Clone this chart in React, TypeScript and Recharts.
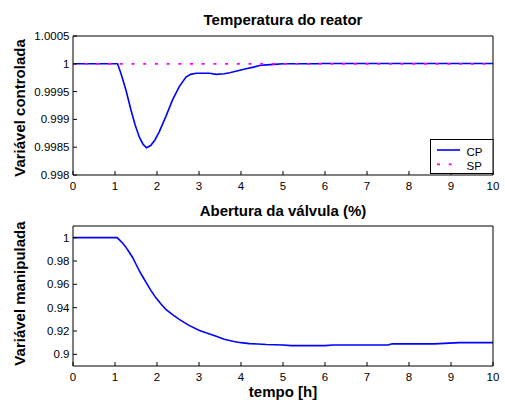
import React from 'react';
import { LineChart, Line, XAxis, YAxis, Legend } from 'recharts';

const timeTop = [0, 1, 1.06, 1.14, 1.26, 1.38, 1.48, 1.58, 1.67, 1.75, 1.85, 1.95, 2.05, 2.21, 2.37, 2.53, 2.69, 2.8, 2.93, 3.1, 3.25, 3.41, 3.6, 3.73, 3.9, 4.12, 4.3, 4.44, 4.6, 4.8, 5, 5.5, 5.8, 5.9, 6.5, 7, 8, 9, 10];
const cpValues = [1, 1, 1, 0.99983, 0.99953, 0.99917, 0.9989, 0.99868, 0.99855, 0.99849, 0.99853, 0.99863, 0.99877, 0.99905, 0.99935, 0.99959, 0.99976, 0.99981, 0.99983, 0.99983, 0.99983, 0.99981, 0.99982, 0.99984, 0.99987, 0.99991, 0.99994, 0.99997, 0.99998, 0.99999, 1, 1, 1, 1.000005, 1.000005, 1.000005, 1.000005, 1.000005, 1.000005];
const spTime = [0, 10];
const spValues = [1, 1];

const timeBottom = [0, 1, 1.05, 1.1, 1.18, 1.26, 1.34, 1.42, 1.5, 1.58, 1.66, 1.74, 1.85, 1.97, 2.1, 2.21, 2.37, 2.53, 2.75, 3.01, 3.2, 3.41, 3.6, 3.8, 4.0, 4.2, 4.4, 4.6, 5.0, 5.2, 5.6, 6.0, 6.2, 7.0, 7.5, 7.6, 8.6, 9.2, 10];
const mvValues = [1, 1, 1, 0.9983, 0.9955, 0.9917, 0.9875, 0.983, 0.9772, 0.9716, 0.9665, 0.9616, 0.955, 0.9486, 0.943, 0.9386, 0.934, 0.93, 0.925, 0.9205, 0.918, 0.9155, 0.913, 0.9112, 0.91, 0.9092, 0.9088, 0.9084, 0.908, 0.9075, 0.9075, 0.9075, 0.908, 0.908, 0.908, 0.909, 0.909, 0.91, 0.91];

const xTicks = [0, 1, 2, 3, 4, 5, 6, 7, 8, 9, 10];
const yTicksTop = [0.998, 0.9985, 0.999, 0.9995, 1, 1.0005];
const yTicksBottom = [0.9, 0.92, 0.94, 0.96, 0.98, 1];

const titleTop = 'Temperatura do reator';
const titleBottom = 'Abertura da válvula (%)';
const yLabelTop = 'Variável controlada';
const yLabelBottom = 'Variável manipulada';
const xLabel = 'tempo [h]';

const topData = timeTop.map((t, i) => ({ t, cp: cpValues[i] }));
const spData = spTime.map((t, i) => ({ t, sp: spValues[i] }));
const bottomData = timeBottom.map((t, i) => ({ t, mv: mvValues[i] }));

const FONT = '"Liberation Sans", Arial, sans-serif';
const tickStyle = { fill: '#000', fontSize: 11.5, fontFamily: FONT };

const yLabelContent = (text: string, cy: number) => () => (
  <text
    x={25}
    y={cy}
    transform={`rotate(-90 25 ${cy})`}
    textAnchor="middle"
    fontFamily={FONT}
    fontSize={15}
    fontWeight="bold"
    fill="#000"
  >
    {text}
  </text>
);

const LegendBox = (props: any) => {
  const payload = props.payload || [];
  return (
    <svg width={64} height={36} style={{ display: 'block' }}>
      <rect x={0.5} y={0.5} width={62.5} height={34} fill="#fff" stroke="#000" strokeWidth={1} />
      {payload.map((p: any, i: number) => {
        const y = 11 + i * 14.3;
        const dashed = i === 1;
        return (
          <g key={i}>
            <line
              x1={7}
              x2={30}
              y1={y}
              y2={y}
              stroke={p.color}
              strokeWidth={dashed ? 1.8 : 1.6}
              strokeDasharray={dashed ? '3 8.7' : undefined}
            />
            <text x={36.5} y={y + 2.5} dominantBaseline="middle" fontFamily={FONT} fontSize={11.5} fill="#000">
              {p.value}
            </text>
          </g>
        );
      })}
    </svg>
  );
};

export default function App() {
  return (
    <div style={{ position: 'absolute', left: 0, top: 0, width: 505, height: 404, background: '#fff' }}>
      <LineChart width={505} height={200} data={topData} margin={{ top: 35, right: 11, left: 0, bottom: 5 }} style={{ fontFamily: FONT }}>
        <XAxis
          xAxisId="b"
          dataKey="t"
          type="number"
          domain={[0, 10]}
          ticks={xTicks}
          allowDataOverflow
          height={20}
          tickSize={-4}
          tickMargin={11}
          tick={tickStyle}
          stroke="#000"
        />
        <XAxis
          xAxisId="t"
          dataKey="t"
          type="number"
          orientation="top"
          domain={[0, 10]}
          ticks={xTicks}
          height={1}
          tickSize={-4}
          tick={false}
          stroke="#000"
          label={{ value: titleTop, position: 'top', offset: 10, fill: '#000', fontSize: 15, fontWeight: 'bold', fontFamily: FONT }}
        />
        <YAxis
          yAxisId="l"
          type="number"
          domain={[0.998, 1.0005]}
          ticks={yTicksTop}
          allowDataOverflow
          width={73}
          tickSize={-4}
          tickMargin={7.5}
          tick={tickStyle}
          stroke="#000"
          label={{ content: yLabelContent(yLabelTop, 108) }}
        />
        <YAxis
          yAxisId="r"
          type="number"
          orientation="right"
          domain={[0.998, 1.0005]}
          ticks={yTicksTop}
          width={1}
          tickSize={-4}
          tick={false}
          stroke="#000"
        />
        <Line
          xAxisId="b"
          yAxisId="l"
          dataKey="cp"
          name="CP"
          stroke="#0000ff"
          strokeWidth={1.6}
          dot={false}
          isAnimationActive={false}
          type="linear"
        />
        <Line
          xAxisId="b"
          yAxisId="l"
          data={spData}
          dataKey="sp"
          name="SP"
          stroke="#ff00ff"
          strokeWidth={1.8}
          strokeDasharray="3 8.7"
          dot={false}
          isAnimationActive={false}
          type="linear"
        />
        <Legend
          layout="vertical"
          align="center"
          verticalAlign="middle"
          content={LegendBox}
          wrapperStyle={{ position: 'absolute', left: 430, top: 139, width: 64, height: 36, bottom: 'auto', right: 'auto', margin: 0 }}
        />
      </LineChart>
      <LineChart width={505} height={204} data={bottomData} margin={{ top: 25, right: 11, left: 0, bottom: 0 }} style={{ fontFamily: FONT }}>
        <XAxis
          xAxisId="b"
          dataKey="t"
          type="number"
          domain={[0, 10]}
          ticks={xTicks}
          allowDataOverflow
          height={38}
          tickSize={-4}
          tickMargin={11}
          tick={tickStyle}
          stroke="#000"
          label={{ value: xLabel, position: 'insideBottom', offset: 7, fill: '#000', fontSize: 15, fontWeight: 'bold', fontFamily: FONT }}
        />
        <XAxis
          xAxisId="t"
          dataKey="t"
          type="number"
          orientation="top"
          domain={[0, 10]}
          ticks={xTicks}
          height={1}
          tickSize={-4}
          tick={false}
          stroke="#000"
          label={{ value: titleBottom, position: 'top', offset: 9.5, fill: '#000', fontSize: 15, fontWeight: 'bold', fontFamily: FONT }}
        />
        <YAxis
          yAxisId="l"
          type="number"
          domain={[0.89, 1.01]}
          ticks={yTicksBottom}
          allowDataOverflow
          width={73}
          tickSize={-4}
          tickMargin={7.5}
          tick={tickStyle}
          stroke="#000"
          label={{ content: yLabelContent(yLabelBottom, 93.5) }}
        />
        <YAxis
          yAxisId="r"
          type="number"
          orientation="right"
          domain={[0.89, 1.01]}
          ticks={yTicksBottom}
          width={1}
          tickSize={-4}
          tick={false}
          stroke="#000"
        />
        <Line
          xAxisId="b"
          yAxisId="l"
          dataKey="mv"
          name="MV"
          stroke="#0000ff"
          strokeWidth={1.6}
          dot={false}
          isAnimationActive={false}
          type="linear"
        />
      </LineChart>
    </div>
  );
}
